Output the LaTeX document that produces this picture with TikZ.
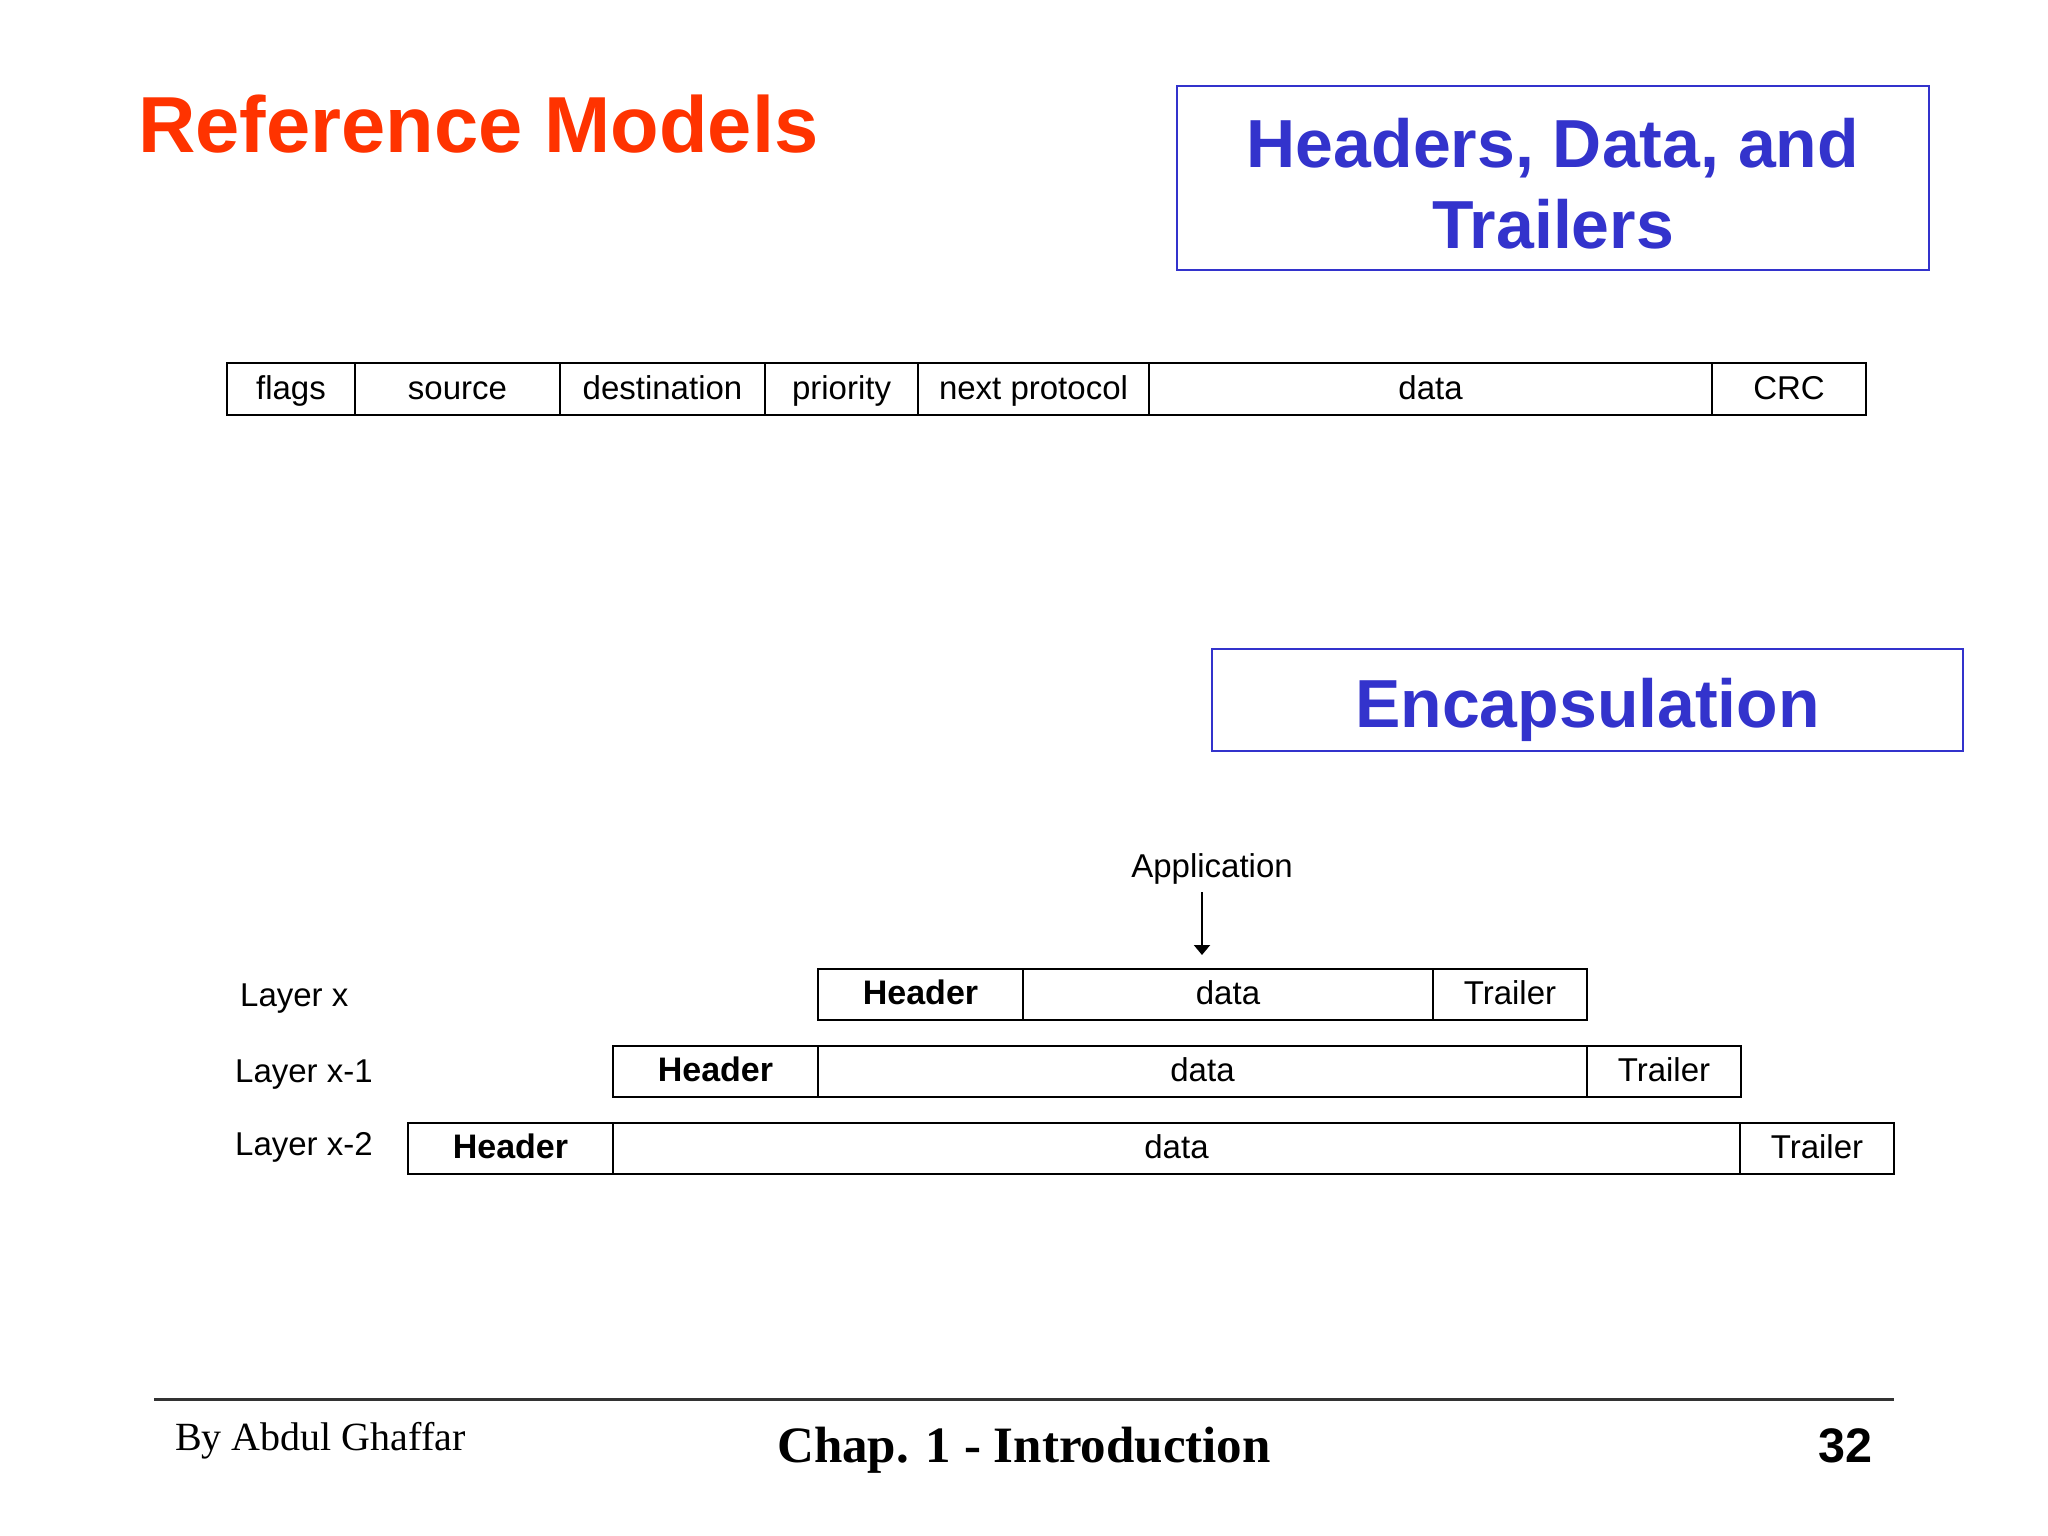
\documentclass[tikz,border=0pt]{standalone}
\usepackage{fontspec}
\setmainfont{Liberation Serif}
\setsansfont{Liberation Sans}
\usepackage{xcolor}
\usepackage{tikz}
\usetikzlibrary{positioning,arrows.meta}

\definecolor{titlered}{RGB}{255,51,0}
\definecolor{slideblue}{RGB}{51,51,204}

\begin{document}
\begin{tikzpicture}[
    x=1pt,y=-1pt,
    >={Triangle[width=16pt,length=10pt]},
    node distance=0pt,
    field/.style={draw, line width=2pt, inner sep=0pt, outer sep=0pt, minimum height=52pt,
        text height=27pt, text depth=7pt, font=\sffamily\fontsize{33}{40}\selectfont},
    hdr/.style={field, minimum width=205pt, font=\sffamily\bfseries\fontsize{34}{40}\selectfont},
    trl/.style={field, minimum width=154pt},
    layerlabel/.style={anchor=base west, inner sep=0pt, font=\sffamily\fontsize{33}{40}\selectfont},
    bluebox/.style={draw=slideblue, line width=2pt, text=slideblue, inner sep=0pt,
        font=\sffamily\bfseries\fontsize{68}{81}\selectfont}
]
    \useasboundingbox[fill=white] (0,0) rectangle (2048,1536);

    \node[anchor=base west, inner sep=0pt, text=titlered,
          font=\sffamily\bfseries\fontsize{79.5}{90}\selectfont] (title) at (138,153) {Reference Models};
    \node[bluebox, align=center, minimum width=752pt, minimum height=184pt,
          text height=140pt, text depth=0pt] (hdt) at (1553,178) {Headers, Data, and\\Trailers};

    \node[field, anchor=north west, minimum width=128pt] (flags)     at (227,363)        {flags};
    \node[field, minimum width=205pt]                    (source)    [right=of flags]    {source};
    \node[field, minimum width=205pt]                    (dest)      [right=of source]   {destination};
    \node[field, minimum width=153pt]                    (prio)      [right=of dest]     {priority};
    \node[field, minimum width=231pt]                    (nextproto) [right=of prio]     {next protocol};
    \node[field, minimum width=563pt]                    (pktdata)   [right=of nextproto] {data};
    \node[field, minimum width=154pt]                    (crc)       [right=of pktdata]  {CRC};

    \node[bluebox, minimum width=751pt, minimum height=102pt,
          text height=54pt, text depth=0pt] (encap) at (1587.5,700) {Encapsulation};

    \node[anchor=base, inner xsep=0pt, inner ysep=8pt, text depth=7pt,
          font=\sffamily\fontsize{33}{40}\selectfont] (app) at (1212,877) {Application};
    \coordinate (apptip) at (1202,955);

    \node[hdr, anchor=north west, minimum height=51pt] (xhead)  at (818,969)      {Header};
    \node[field, minimum width=410pt, minimum height=51pt] (xdata)  [right=of xhead] {data};
    \node[trl, minimum height=51pt]                    (xtrail) [right=of xdata]  {Trailer};

    \node[hdr, anchor=north west, minimum height=51pt] (xahead)  at (613,1046)      {Header};
    \node[field, minimum width=769pt, minimum height=51pt] (xadata)  [right=of xahead] {data};
    \node[trl, minimum height=51pt]                    (xatrail) [right=of xadata]  {Trailer};

    \node[hdr, anchor=north west, minimum height=51pt] (xbhead)  at (408,1123)      {Header};
    \node[field, minimum width=1127pt, minimum height=51pt] (xbdata) [right=of xbhead] {data};
    \node[trl, minimum height=51pt]                    (xbtrail) [right=of xbdata]  {Trailer};

    \node[layerlabel] (lx)  at (240,1006) {Layer x};
    \node[layerlabel] (lxa) at (235,1082) {Layer x-1};
    \node[layerlabel] (lxb) at (235,1155) {Layer x-2};

    \draw[->, line width=2pt] (app.south -| apptip) -- (apptip);

    \draw[line width=3pt, black!80] (154,1399) -- (1894,1399);
    \node[anchor=base west, inner sep=0pt, font=\fontsize{40}{48}\selectfont] (author) at (175,1450) {By Abdul Ghaffar};
    \node[anchor=base, inner sep=0pt, font=\bfseries\fontsize{51}{60}\selectfont] (chap) at (1024,1462) {Chap. 1 - Introduction};
    \node[anchor=base east, inner sep=0pt, font=\sffamily\bfseries\fontsize{48.5}{60}\selectfont] (pagenum) at (1873,1462) {32};
\end{tikzpicture}
\end{document}
